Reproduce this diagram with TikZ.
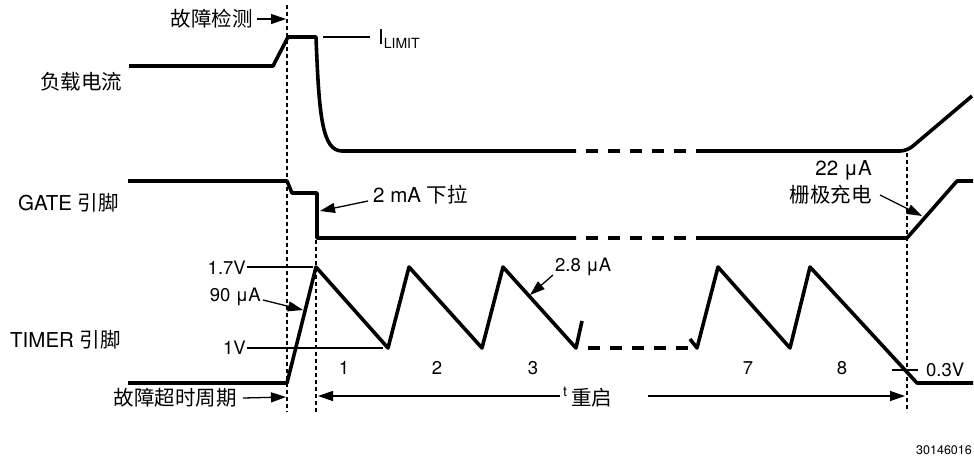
\documentclass[tikz,border=0pt]{standalone}
\usepackage{fontspec}
\setmainfont{TeX Gyre Heros}
\newfontfamily\cjk{Noto Sans CJK SC}
\usetikzlibrary{arrows.meta}
\begin{document}
\begin{tikzpicture}[x=1pt,y=-1pt,
  trace/.style={line width=3.6pt,line join=round},
  tdash/.style={line width=3.6pt,dash pattern=on 12pt off 10pt},
  thin/.style={line width=1.3pt},
  vdash/.style={line width=1.2pt,dash pattern=on 4pt off 3pt},
  arr/.style={line width=1.3pt,-{Triangle[length=15pt,width=10pt]}},
  lbl/.style={inner sep=0pt,font=\fontsize{20.5}{24}\selectfont},
  vlbl/.style={inner sep=0pt,font=\fontsize{18.5}{22}\selectfont}]
\useasboundingbox (0,0) rectangle (974,456);

% vertical dashed guides
\draw[vdash] (287,5) -- (287,412);
\draw[vdash] (316,240) -- (316,412);
\draw[vdash] (907,153) -- (907,412);

% load current
\draw[trace] (129,66) -- (273,66) -- (288,37) -- (316,37)
  .. controls (319,115) and (322,151) .. (342,151) -- (576,151);
\draw[tdash] (586,151) -- (697,151);
\draw[trace,rounded corners=7pt] (697,151) -- (907,151) -- (972,96);

% gate
\draw[trace] (128,181) -- (287,181) -- (292,193) -- (317,193) -- (317,238) -- (576,238);
\draw[tdash] (586,238) -- (697,238);
\draw[trace] (697,238) -- (907,238) -- (957,181) -- (973,181);

% timer
\draw[trace] (128,383) -- (287,383) -- (316,267) -- (388,348) -- (409,267)
  -- (482,348) -- (503,267) -- (576,348) -- (582,321);
\draw[tdash] (588,348) -- (688,348);
\draw[trace] (690,339) -- (697,348) -- (718,267) -- (790,348) -- (810,267)
  -- (917,383) -- (973,383);

% level lines
\draw[thin] (323,37) -- (370,37);
\draw[thin] (247,267) -- (313,267);
\draw[thin] (247,348) -- (383,348);
\draw[thin] (892,370) -- (918,370);

% labels
\node[lbl,anchor=east] (fd) at (253,19) {\cjk 故障检测};
\node[lbl,anchor=west] (load) at (40,82) {\cjk 负载电流};
\node[lbl,anchor=west] (gate) at (18,203) {GATE {\cjk 引脚}};
\node[lbl,anchor=west] (timer) at (10,340) {TIMER {\cjk 引脚}};
\node[lbl,anchor=east] (fto) at (237,398) {\cjk 故障超时周期};
\node[lbl,anchor=west] (ilim) at (378,39) {I\raisebox{-0.45ex}{\fontsize{14}{14}\selectfont LIMIT}};
\node[lbl,anchor=west] (ma2) at (373,195) {2 mA {\cjk 下拉}};
\node[lbl,anchor=east] (ua22) at (872,170) {22 μA};
\node[lbl,anchor=east] (gchg) at (872,195) {\cjk 栅极充电};
\node[vlbl,anchor=east] (v17) at (246,268) {1.7V};
\node[vlbl,anchor=east] (ua90) at (261,297) {90 μA};
\node[vlbl,anchor=east] (v1) at (246,348) {1V};
\node[vlbl,anchor=west] (ua28) at (555,267) {2.8 μA};
\node[vlbl,anchor=west] (v03) at (926,370) {0.3V};
\node[vlbl] (n1) at (344,368) {1};
\node[vlbl] (n2) at (437,368) {2};
\node[vlbl] (n3) at (533,368) {3};
\node[vlbl] (n7) at (748,368) {7};
\node[vlbl] (n8) at (842,368) {8};
\node[inner sep=0pt,font=\fontsize{14}{16}\selectfont,anchor=west] (tt) at (563,392) {t};
\node[lbl,anchor=west] (rst) at (571,398) {\cjk 重启};
\node[inner sep=0pt,font=\fontsize{12.5}{14}\selectfont,anchor=east] (fig) at (972,450) {30146016};

% arrows
\coordinate (fdtip) at (286,19);
\coordinate (matip) at (320,211);
\coordinate (u90tip) at (303,310);
\coordinate (u28tip) at (530,295);
\coordinate (gtip) at (922,216);
\coordinate (ftotip) at (286,397);
\coordinate (lefttip) at (318,396);
\coordinate (righttip) at (905,396);
\draw[arr] ([xshift=4pt]fd.east) -- (fdtip);
\draw[arr] ([shift={(-5,6)}]ma2.west) -- (matip);
\draw[arr] ([shift={(2,3)}]ua90.east) -- (u90tip);
\draw[arr] ([shift={(-2,8)}]ua28.west) -- (u28tip);
\draw[arr] ([xshift=8pt]gchg.east) -- (gtip);
\draw[arr] ([xshift=6pt]fto.east) -- (ftotip);
\draw[arr] ([shift={(-3,4)}]tt.west) -- (lefttip);
\draw[arr] ([shift={(36,-2)}]rst.east) -- (righttip);
\end{tikzpicture}
\end{document}
